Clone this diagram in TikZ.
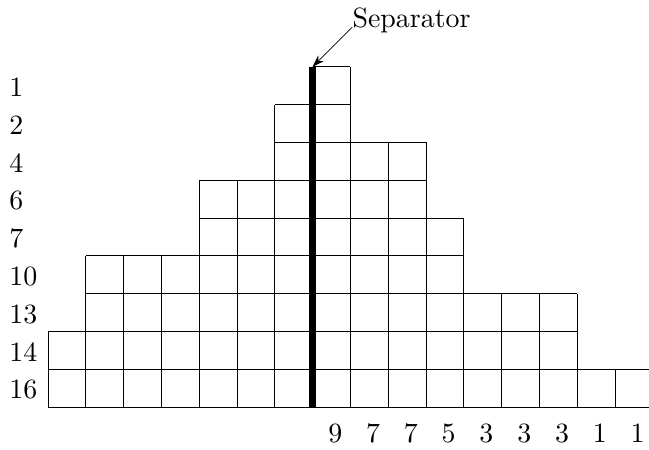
\documentclass[tikz,border=0pt]{standalone}
\usepackage{fontspec}
\setmainfont{lmroman10-regular.otf}
\usetikzlibrary{arrows.meta}
\begin{document}
\begin{tikzpicture}[x=1cm,y=1cm,
  cellgrid/.style={line width=0.6pt},
  lbl/.style={inner sep=0pt,font=\fontsize{21}{25}\selectfont},
  sepline/.style={line width=5.2pt},
  ptr/.style={line width=0.6pt,-{Stealth[length=9pt,width=6pt]}}]
\useasboundingbox (-1.270,-1.138) rectangle (15.90,10.767);
% cells: y-bottom / x-start / x-end
\foreach \y/\a/\b in {8/7/8,7/6/8,6/6/10,5/4/10,4/4/11,3/1/11,2/1/14,1/0/14,0/0/16}
  \draw[cellgrid] (\a,\y) grid (\b,\y+1);
% left labels
\foreach \y/\t [count=\i] in {8/1,7/2,6/4,5/6,4/7,3/10,2/13,1/14,0/16}
  \node[lbl,anchor=west] (L\i) at (-1.03,\y+0.45) {\t};
% bottom labels
\foreach \x/\t [count=\i] in {7/9,8/7,9/7,10/5,11/3,12/3,13/3,14/1,15/1}
  \node[lbl] (B\i) at (\x+0.6,-0.69) {\t};
% separator
\coordinate (septop) at (7,9);
\coordinate (sepbot) at (7,0);
\draw[sepline] (sepbot) -- (septop);
\node[lbl,anchor=base west] (sep) at (8.05,10.05) {Separator};
\draw[ptr] (sep.base west) -- (septop);
\end{tikzpicture}
\end{document}
